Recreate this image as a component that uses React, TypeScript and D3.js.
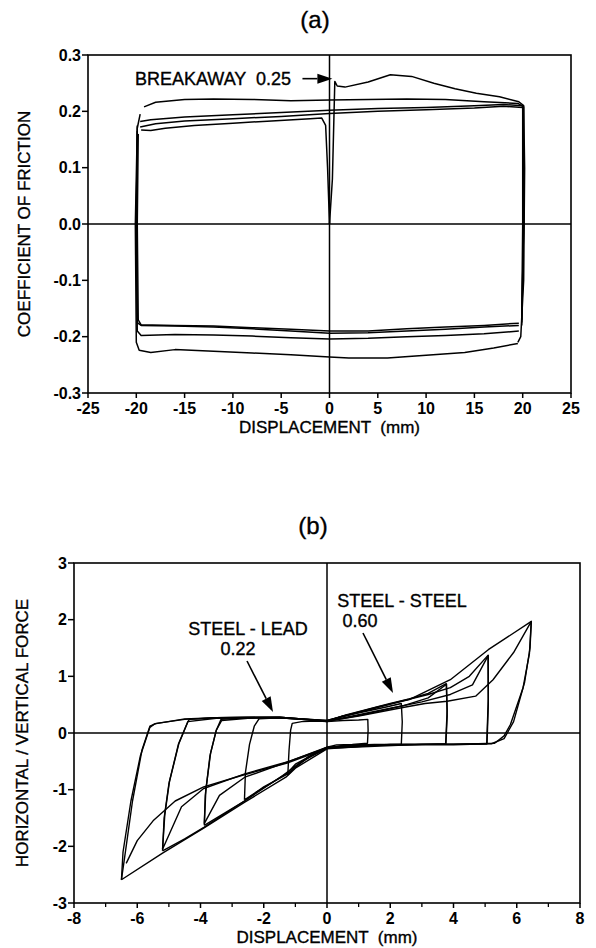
import React from "react";
import * as d3 from "d3";

// ---- chart (a): coefficient of friction vs displacement ----
const aXTicks = [-25, -20, -15, -10, -5, 0, 5, 10, 15, 20, 25];
const aYTicks = [0.3, 0.2, 0.1, 0.0, -0.1, -0.2, -0.3];

// breakaway run, then alternating return / forward strokes
const aBreakaway = [[0, 0], [0.3, 0.08], [0.55, 0.253], [0.8, 0.245], [1.6, 0.243], [4, 0.252], [6.3, 0.265], [8.5, 0.262], [10.8, 0.25], [13, 0.24], [15.2, 0.232], [17.6, 0.226], [19.6, 0.217], [20.1, 0.21], [20.2, 0.1], [20.1, -0.1], [19.8, -0.2], [19.5, -0.21]];
const aReturn1 = [[19.5, -0.212], [17, -0.22], [14, -0.228], [10, -0.233], [6, -0.238], [2, -0.238], [0, -0.236], [-4, -0.232], [-8, -0.229], [-12, -0.226], [-16, -0.223], [-18.5, -0.228], [-19.7, -0.224], [-20, -0.21], [-20.1, 0.0], [-19.9, 0.17], [-19.6, 0.195]];
const aForward1 = [[-19.2, 0.208], [-18, 0.216], [-15, 0.221], [-12, 0.222], [-8, 0.221], [-4, 0.219], [0, 0.22], [4, 0.221], [8, 0.222], [12, 0.221], [16, 0.217], [19.5, 0.214], [20.1, 0.208], [20.1, 0.0], [19.9, -0.18]];
const aReturn2 = [[19.6, -0.19], [16, -0.195], [12, -0.198], [8, -0.2], [4, -0.203], [0, -0.204], [-4, -0.202], [-8, -0.199], [-12, -0.197], [-16, -0.196], [-19.5, -0.198], [-19.9, -0.19], [-20, 0], [-19.9, 0.175]];
const aForward2 = [[-19.6, 0.182], [-18.5, 0.185], [-15, 0.19], [-10, 0.194], [-5, 0.198], [0, 0.202], [5, 0.205], [10, 0.207], [15, 0.21], [18, 0.212], [20, 0.21], [20.1, 0], [19.9, -0.175]];
const aReturn3 = [[19.6, -0.18], [16, -0.183], [12, -0.187], [8, -0.19], [4, -0.193], [0, -0.194], [-4, -0.19], [-8, -0.186], [-12, -0.183], [-16, -0.181], [-19.5, -0.18], [-19.9, -0.175], [-20, 0], [-19.9, 0.165]];
const aForward3 = [[-19.6, 0.172], [-18, 0.178], [-15, 0.183], [-10, 0.187], [-5, 0.191], [0, 0.196], [5, 0.2], [10, 0.203], [15, 0.206], [18, 0.209], [20, 0.207], [20, 0], [19.9, -0.17]];
const aReturn4 = [[19.6, -0.176], [16, -0.18], [12, -0.183], [8, -0.186], [4, -0.19], [0, -0.19], [-4, -0.187], [-8, -0.184], [-12, -0.181], [-16, -0.18], [-19.5, -0.179], [-19.8, -0.17], [-19.9, 0], [-19.8, 0.16]];
const aForward4 = [[-19.5, 0.167], [-18.5, 0.166], [-17, 0.17], [-14, 0.175], [-10, 0.179], [-6, 0.183], [-2, 0.187], [-0.8, 0.188], [-0.4, 0.175], [-0.2, 0.1], [0, 0]];

// ---- chart (b): horizontal / vertical force vs displacement ----
const bXTicks = [-8, -6, -4, -2, 0, 2, 4, 6, 8];
const bXMinor = [-7, -5, -3, -1, 1, 3, 5, 7];
const bYTicks = [3, 2, 1, 0, -1, -2, -3];

const bCycle1 = [[-1.24, -0.74], [-1.2, -0.3], [-1.15, 0.05], [-1.1, 0.17], [-0.8, 0.2], [-0.3, 0.21], [0, 0.2], [0.5, 0.22], [1.0, 0.23], [1.29, 0.24], [1.3, 0.05], [1.28, -0.18], [0.8, -0.2], [0.3, -0.21], [0, -0.25], [-0.3, -0.33], [-0.7, -0.48], [-1.0, -0.6], [-1.24, -0.74]];
const bCycle2 = [[-2.61, -1.18], [-2.58, -0.7], [-2.45, -0.2], [-2.3, 0.12], [-2.15, 0.25], [-1.5, 0.27], [-0.8, 0.25], [0, 0.21], [0.5, 0.3], [1.2, 0.38], [1.8, 0.45], [2.35, 0.52], [2.38, 0.2], [2.35, -0.2], [1.5, -0.2], [0.5, -0.22], [0, -0.26], [-0.5, -0.4], [-1.0, -0.55], [-1.24, -0.7], [-1.8, -0.9], [-2.2, -1.03], [-2.61, -1.18]];
const bCycle3 = [[-3.88, -1.63], [-3.85, -1.1], [-3.7, -0.4], [-3.5, 0.05], [-3.35, 0.24], [-2.5, 0.27], [-1.5, 0.28], [-0.8, 0.25], [0, 0.21], [0.6, 0.32], [1.3, 0.42], [2, 0.52], [2.6, 0.6], [3.2, 0.7], [3.77, 0.87], [3.8, 0.4], [3.75, -0.2], [2.5, -0.2], [1, -0.21], [0, -0.26], [-0.6, -0.42], [-1.24, -0.72], [-2, -0.95], [-2.61, -1.2], [-3.2, -1.4], [-3.88, -1.63]];
const bCycle3b = [[-3.88, -1.6], [-3.83, -1.0], [-3.68, -0.35], [-3.5, 0.05], [-3.33, 0.22], [-2.5, 0.26], [-1.5, 0.27], [-0.8, 0.24], [0, 0.2], [1.2, 0.33], [2.4, 0.48], [3.2, 0.62], [3.78, 0.86], [3.8, 0.3], [3.76, -0.19], [2.5, -0.21], [1, -0.22], [0, -0.25], [-1.2, -0.5], [-2.6, -0.78], [-3.4, -1.1], [-3.88, -1.6]];
const bCycle4 = [[-5.2, -2.08], [-5.15, -1.5], [-5, -0.9], [-4.7, -0.2], [-4.4, 0.2], [-4.35, 0.24], [-3.5, 0.27], [-2.5, 0.28], [-1.5, 0.28], [-0.8, 0.25], [0, 0.22], [0.8, 0.33], [1.6, 0.45], [2.4, 0.57], [3.2, 0.68], [3.9, 0.8], [4.5, 1.0], [5.09, 1.37], [5.1, 0.6], [5.05, -0.19], [4, -0.2], [2.5, -0.2], [1, -0.21], [0, -0.27], [-0.8, -0.5], [-1.4, -0.75], [-2.61, -1.2], [-3.88, -1.66], [-4.5, -1.87], [-5.2, -2.08]];
const bCycle4b = [[-5.2, -2.05], [-5.13, -1.45], [-4.98, -0.85], [-4.68, -0.18], [-4.4, 0.2], [-3.5, 0.26], [-2.5, 0.27], [-1.5, 0.27], [-0.8, 0.24], [0, 0.21], [1.5, 0.38], [3, 0.55], [3.9, 0.68], [4.6, 0.85], [5.1, 1.37], [5.1, 0.5], [5.06, -0.19], [4, -0.21], [2, -0.21], [0, -0.26], [-1.2, -0.5], [-2.6, -0.72], [-3.9, -0.98], [-4.6, -1.3], [-5.2, -2.05]];
const bCycle5 = [[-6.5, -2.59], [-6.45, -2.1], [-6.2, -1.2], [-5.9, -0.4], [-5.6, 0.1], [-5.45, 0.16], [-4.5, 0.25], [-3.5, 0.27], [-2.5, 0.28], [-1.5, 0.28], [-0.8, 0.25], [0, 0.22], [0.8, 0.34], [1.6, 0.46], [2.6, 0.59], [3.9, 0.94], [5.1, 1.47], [6.46, 1.97], [6.4, 1.4], [6.2, 0.8], [5.8, 0.15], [5.6, -0.05], [5.3, -0.18], [4, -0.2], [2, -0.2], [0, -0.28], [-1.0, -0.62], [-1.3, -0.78], [-2.6, -1.22], [-3.9, -1.68], [-5.2, -2.12], [-6.5, -2.59]];
// repeated cycle at the largest amplitude (inner rising and descending curves)
const bCycle6 = [[-6.5, -2.59], [-6.4, -2.2], [-6.15, -1.2], [-5.85, -0.3], [-5.6, 0.12], [-5.4, 0.17], [-4.5, 0.24], [-3.5, 0.27], [-2.5, 0.27], [-1.5, 0.27], [-0.8, 0.24], [0, 0.21], [1, 0.3], [2.4, 0.45], [3.1, 0.52], [3.8, 0.56], [4.7, 0.65], [5.25, 0.94], [5.9, 1.42], [6.46, 1.97], [6.42, 1.5], [6.25, 0.9], [5.9, 0.2], [5.6, -0.1], [5.2, -0.19], [3, -0.2], [0, -0.27], [-1.2, -0.52], [-2.7, -0.75], [-3.9, -0.95], [-4.8, -1.2], [-5.5, -1.55], [-6.0, -1.9], [-6.35, -2.3]];

const aX = d3.scaleLinear().domain([-25, 25]).range([88, 571]);
const aY = d3.scaleLinear().domain([-0.3, 0.3]).range([393, 55]);
const bX = d3.scaleLinear().domain([-8, 8]).range([74, 580]);
const bY = d3.scaleLinear().domain([-3, 3]).range([903, 563]);

const font = "'Liberation Sans', Arial, Helvetica, sans-serif";
const ink = { fill: "#000", stroke: "#000", strokeWidth: 0.35 };

const Frame = ({ x, y, xTicks, xMinor, yTicks, yFmt, xTitle, yTitle, yTitleX }) => {
	const [x0, x1] = x.range();
	const [y0, y1] = y.range();
	return (
		<g>
			<rect x={x0} y={y1} width={x1 - x0} height={y0 - y1} fill="none" stroke="#000" strokeWidth={1.6} />
			<line x1={x0} x2={x1} y1={y(0)} y2={y(0)} stroke="#000" strokeWidth={1.5} />
			<line x1={x(0)} x2={x(0)} y1={y1} y2={y0} stroke="#000" strokeWidth={1.5} />
			{xTicks.map((t) => (
				<g key={"x" + t}>
					<line x1={x(t)} x2={x(t)} y1={y0} y2={y0 + 5} stroke="#000" strokeWidth={1.5} />
					<text x={x(t)} y={y0 + 21} textAnchor="middle" fontSize={16} fontWeight="bold">{t}</text>
				</g>
			))}
			{xMinor.map((t) => (
				<line key={"m" + t} x1={x(t)} x2={x(t)} y1={y0} y2={y0 + 4} stroke="#000" strokeWidth={1.3} />
			))}
			{yTicks.map((t) => (
				<g key={"y" + t}>
					<line x1={x0 - 6} x2={x0} y1={y(t)} y2={y(t)} stroke="#000" strokeWidth={1.5} />
					<text x={x0 - 7} y={y(t)} dy="0.35em" textAnchor="end" fontSize={16} fontWeight="bold">{yFmt(t)}</text>
				</g>
			))}
			<text x={(x0 + x1) / 2} y={y0 + 40} textAnchor="middle" fontSize={17} {...ink} style={{ whiteSpace: "pre" }}>{xTitle}</text>
			<text transform={`translate(${yTitleX},${(y0 + y1) / 2}) rotate(-90)`} textAnchor="middle" fontSize={17} {...ink}>{yTitle}</text>
		</g>
	);
};

const Arrow = ({ from, to }) => {
	const ang = Math.atan2(to[1] - from[1], to[0] - from[0]);
	const len = 15, half = 5;
	const bx = to[0] - len * Math.cos(ang), by = to[1] - len * Math.sin(ang);
	const px = -Math.sin(ang) * half, py = Math.cos(ang) * half;
	return (
		<g>
			<line x1={from[0]} y1={from[1]} x2={bx} y2={by} stroke="#000" strokeWidth={1.6} />
			<path d={`M${to[0]},${to[1]}L${bx + px},${by + py}L${bx - px},${by - py}Z`} fill="#000" />
		</g>
	);
};

export default function App() {
	const aLine = d3.line().x((d) => aX(d[0])).y((d) => aY(d[1]));
	const bLine = d3.line().x((d) => bX(d[0])).y((d) => bY(d[1]));
	const aPaths = [aBreakaway, aReturn1, aForward1, aReturn2, aForward2, aReturn3, aForward3, aReturn4, aForward4];
	const bPaths = [bCycle1, bCycle2, bCycle3, bCycle3b, bCycle4, bCycle4b, bCycle5, bCycle6];
	return (
		<svg width={596} height={948} style={{ position: "absolute", left: 0, top: 0, background: "#fff" }} fontFamily={font}>
			<rect width={596} height={948} fill="#fff" />
			<text x={315} y={28} textAnchor="middle" fontSize={24} {...ink}>(a)</text>
			<Frame x={aX} y={aY} xTicks={aXTicks} xMinor={[]} yTicks={aYTicks} yFmt={(t) => t.toFixed(1)} xTitle="DISPLACEMENT  (mm)" yTitle="COEFFICIENT OF FRICTION" yTitleX={30} />
			{aPaths.map((p, i) => (
				<path key={i} d={aLine(p)} fill="none" stroke="#000" strokeWidth={1.5} strokeLinejoin="round" />
			))}
			<text x={135} y={85} fontSize={18} {...ink} style={{ whiteSpace: "pre" }}>BREAKAWAY  0.25</text>
			<Arrow from={[aX(-2.8), aY(0.258)]} to={[aX(0.3), aY(0.258)]} />

			<text x={313} y={534} textAnchor="middle" fontSize={24} {...ink}>(b)</text>
			<Frame x={bX} y={bY} xTicks={bXTicks} xMinor={bXMinor} yTicks={bYTicks} yFmt={(t) => String(t)} xTitle="DISPLACEMENT  (mm)" yTitle="HORIZONTAL / VERTICAL FORCE" yTitleX={28} />
			{bPaths.map((p, i) => (
				<path key={i} d={bLine(p)} fill="none" stroke="#000" strokeWidth={1.4} strokeLinejoin="round" />
			))}
			<text x={248} y={635} textAnchor="middle" fontSize={18} {...ink}>STEEL - LEAD</text>
			<text x={238} y={655} textAnchor="middle" fontSize={18} {...ink}>0.22</text>
			<Arrow from={[247, 661]} to={[273, 712]} />
			<text x={402} y={607} textAnchor="middle" fontSize={18} {...ink}>STEEL - STEEL</text>
			<text x={360} y={627} textAnchor="middle" fontSize={18} {...ink}>0.60</text>
			<Arrow from={[363, 633]} to={[393, 693]} />
		</svg>
	);
}
